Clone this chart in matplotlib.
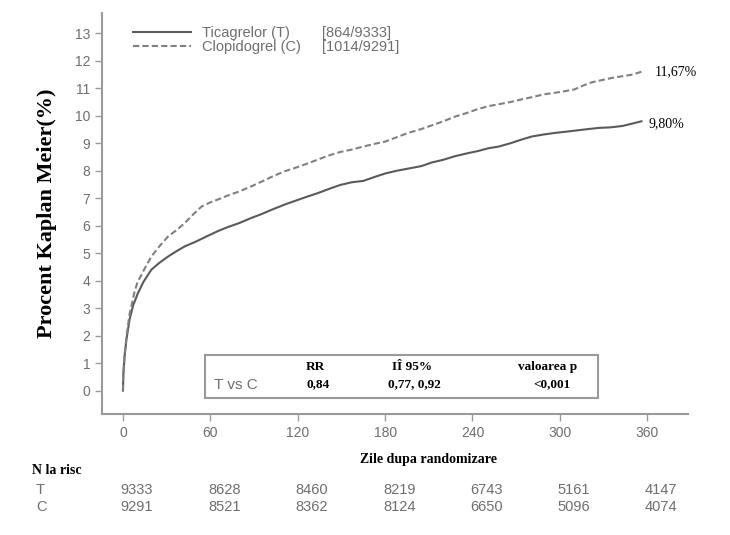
import matplotlib
matplotlib.use('Agg')
import matplotlib.pyplot as plt
import matplotlib.transforms as mtransforms
from matplotlib.patches import Rectangle

# Kaplan-Meier curves (days, percent)
tica_days = [0, 0.3, 1.1, 2.5, 4.6, 7, 10.3, 14, 19.5, 25, 31, 37, 42.5, 50, 57, 65, 72, 80,
             88, 95, 103, 111, 118, 126, 134, 141, 149, 157, 165, 172, 180, 188, 196, 205,
             212, 220, 228, 236, 244, 251, 258, 266, 274, 281, 289, 297, 304, 312, 320, 327,
             335, 343, 350, 356]
tica_pct = [0, 0.6, 1.25, 1.9, 2.6, 3.1, 3.55, 3.95, 4.4, 4.65, 4.88, 5.08, 5.25, 5.42, 5.6,
            5.8, 5.95, 6.1, 6.28, 6.42, 6.6, 6.77, 6.9, 7.05, 7.19, 7.33, 7.48, 7.58, 7.63,
            7.76, 7.9, 8.0, 8.08, 8.17, 8.3, 8.4, 8.53, 8.63, 8.72, 8.82, 8.88, 9.0, 9.14,
            9.25, 9.32, 9.38, 9.42, 9.47, 9.52, 9.56, 9.58, 9.63, 9.72, 9.8]

clop_days = [0, 0.3, 1.1, 2.5, 4.6, 5.7, 8, 10, 12.6, 15, 19.5, 25, 31, 37, 42.5, 48, 54, 60,
             65, 72, 80, 88, 95, 103, 111, 118, 126, 134, 141, 149, 157, 165, 172, 180, 188,
             196, 205, 212, 220, 228, 236, 244, 251, 258, 266, 274, 281, 289, 297, 304, 310,
             316, 322, 329, 336, 343, 350, 354, 357]
clop_pct = [0, 0.6, 1.3, 2.0, 2.8, 3.06, 3.6, 3.95, 4.2, 4.45, 4.88, 5.25, 5.61, 5.85, 6.1,
            6.4, 6.7, 6.85, 6.95, 7.1, 7.25, 7.43, 7.6, 7.8, 7.98, 8.1, 8.25, 8.41, 8.55,
            8.68, 8.77, 8.88, 8.97, 9.06, 9.22, 9.38, 9.52, 9.65, 9.8, 9.97, 10.1, 10.25,
            10.35, 10.42, 10.5, 10.6, 10.68, 10.78, 10.84, 10.9, 10.96, 11.1, 11.22, 11.3,
            11.38, 11.44, 11.5, 11.57, 11.62]

x_ticks = [0, 60, 120, 180, 240, 300, 360]
y_ticks = list(range(0, 14))
at_risk_t = [9333, 8628, 8460, 8219, 6743, 5161, 4147]
at_risk_c = [9291, 8521, 8362, 8124, 6650, 5096, 4074]

legend_names = ['Ticagrelor (T)', 'Clopidogrel (C)']
legend_counts = ['[864/9333]', '[1014/9291]']
end_labels = ['9,80%', '11,67%']

sans = 'Liberation Sans'
serif = 'Liberation Serif'
grey = '#6e6e6e'

fig = plt.figure(figsize=(7.3, 5.35), dpi=100)
ax = fig.add_axes([0.1397, 0.2262, 0.9425 - 0.1397, 0.9757 - 0.2262])

l1, = ax.plot(tica_days, tica_pct, color='#5a5a5a', lw=1.5, ls='-')
l2, = ax.plot(clop_days, clop_pct, color='#808080', lw=1.5, ls=(0, (3, 1.5)))

ax.set_xlim(-14.4, 388)
ax.set_ylim(-0.85, 13.74)
ax.set_xticks(x_ticks)
ax.set_yticks(y_ticks)
for side in ['top', 'right']:
    ax.spines[side].set_visible(False)
for side in ['left', 'bottom']:
    ax.spines[side].set_color('#9a9a9a')
    ax.spines[side].set_linewidth(1.5)
ax.tick_params(direction='out', length=5, width=1, color='#9a9a9a', labelcolor=grey,
               labelsize=10)
for lab in ax.get_xticklabels() + ax.get_yticklabels():
    lab.set_family(sans)

ax.set_ylabel('Procent Kaplan Meier(%)', family=serif, fontweight='bold', fontsize=16,
              labelpad=13)

# legend
leg = ax.legend([l1, l2], legend_names, loc='upper left', frameon=False,
                bbox_to_anchor=(133 / 730, 1 - 26 / 535), bbox_transform=fig.transFigure,
                borderpad=0, borderaxespad=0, handlelength=4.0, handletextpad=0.7,
                labelspacing=0.0, prop={'family': sans, 'size': 10.5})
for t in leg.get_texts():
    t.set_color(grey)
for i, s in enumerate(legend_counts):
    fig.text(322 / 730, 1 - (33 + 14 * i) / 535, s, family=sans, fontsize=10.5, color=grey,
             ha='left', va='center')

# end-of-curve percentages
ax.text(tica_days[-1] + 5, tica_pct[-1] - 0.1, end_labels[0], family=serif, fontsize=10,
        ha='left', va='center')
ax.text(clop_days[-1] + 8, clop_pct[-1] + 0.0, end_labels[1], family=serif, fontsize=10,
        ha='left', va='center')

# statistics box
box = Rectangle((205 / 730, 1 - 398 / 535), (598 - 205) / 730, (398 - 355) / 535,
                transform=fig.transFigure, fill=False, edgecolor='#9a9a9a', lw=1.5)
fig.patches.append(box)
fig.text(214 / 730, 1 - 385 / 535, 'T vs C', family=sans, fontsize=11, color=grey,
         va='center', ha='left')
heads = [('RR', 315), ('IÎ 95%', 412), ('valoarea p', 548)]
vals = [('0,84', 318), ('0,77, 0,92', 414), ('<0,001', 552)]
for s, x in heads:
    fig.text(x / 730, 1 - 367 / 535, s, family=serif, fontweight='bold', fontsize=9.5,
             ha='center', va='center')
for s, x in vals:
    fig.text(x / 730, 1 - 384 / 535, s, family=serif, fontweight='bold', fontsize=9.5,
             ha='center', va='center')

# axis title and numbers at risk
fig.text(428 / 730, 1 - 460 / 535, 'Zile dupa randomizare', family=serif,
         fontweight='bold', fontsize=10, ha='center', va='center')
fig.text(32 / 730, 1 - 471 / 535, 'N la risc', family=serif, fontweight='bold',
         fontsize=10, ha='left', va='center')
fig.text(36 / 730, 1 - 490 / 535, 'T', family=sans, fontsize=10.5, color=grey,
         ha='left', va='center')
fig.text(36 / 730, 1 - 507 / 535, 'C', family=sans, fontsize=10.5, color=grey,
         ha='left', va='center')
trans = mtransforms.blended_transform_factory(ax.transData, fig.transFigure)
for x, t, c in zip(x_ticks, at_risk_t, at_risk_c):
    ax.text(x - 1.5, 1 - 490 / 535, str(t), transform=trans, family=sans, fontsize=10.5,
            color=grey, ha='left', va='center', clip_on=False)
    ax.text(x - 1.5, 1 - 507 / 535, str(c), transform=trans, family=sans, fontsize=10.5,
            color=grey, ha='left', va='center', clip_on=False)

fig.savefig('out.png', dpi=100)
